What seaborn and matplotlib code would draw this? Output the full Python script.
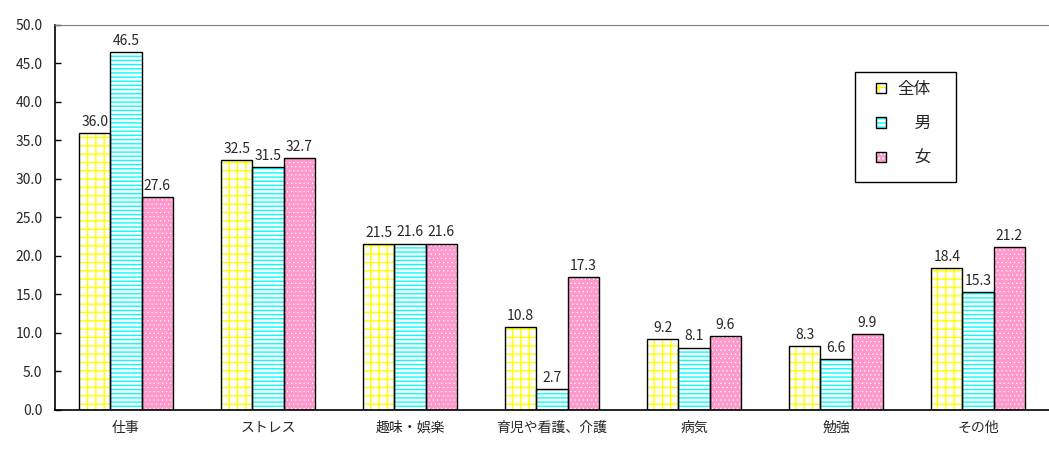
import matplotlib
matplotlib.use('Agg')

import numpy as np
import pandas as pd
import matplotlib.pyplot as plt
import seaborn as sns
from matplotlib.patches import Patch, Rectangle
from matplotlib.legend_handler import HandlerTuple

# data
categories = ['仕事', 'ストレス', '趣味・娯楽', '育児や看護、介護', '病気', '勉強', 'その他']
groups = ['全体', '男', '女']
zentai = [36.0, 32.5, 21.5, 10.8, 9.2, 8.3, 18.4]
otoko = [46.5, 31.5, 21.6, 2.7, 8.1, 6.6, 15.3]
onna = [27.6, 32.7, 21.6, 17.3, 9.6, 9.9, 21.2]

df = pd.DataFrame({
    'category': categories * 3,
    'group': [g for g in groups for _ in categories],
    'value': zentai + otoko + onna,
})

sns.set_style('white')
plt.rcParams['font.family'] = ['Noto Sans CJK JP', 'DejaVu Sans']
plt.rcParams['hatch.linewidth'] = 1.0

# face colour, hatch colour, hatch pattern, hatch line width per group
faces = ['white', 'white', '#FF99CC']
hatch_colors = ['#FFFF00', '#00FFFF', 'white']
hatches = ['++', '----', '....']
hatch_lws = [1.0, 1.0, 0.4]


def set_hlw(p, lw):
    if hasattr(p, 'set_hatch_linewidth'):
        p.set_hatch_linewidth(lw)
    else:
        p._hatch_linewidth = lw


fig = plt.figure(figsize=(10.49, 4.54), dpi=100)
ax = fig.add_axes([0.0524, 0.097, 0.9476, 0.848])

sns.barplot(data=df, x='category', y='value', hue='group', order=categories,
            hue_order=groups, palette=faces, saturation=1, width=0.66,
            errorbar=None, legend=False, ax=ax)

for i, cont in enumerate(ax.containers):
    for bar in cont:
        bar.set_facecolor(faces[i])
        bar.set_hatch(hatches[i])
        bar.set_edgecolor(hatch_colors[i])
        bar.set_linewidth(0)
        set_hlw(bar, hatch_lws[i])
        ax.add_patch(Rectangle(bar.get_xy(), bar.get_width(), bar.get_height(),
                               fill=False, edgecolor='black', linewidth=1.0, zorder=3))
    ax.bar_label(cont, fmt='%.1f', padding=3, fontsize=10)

ax.set_ylim(0, 50)
ax.set_xlim(-0.5, 6.5)
ax.set_yticks(np.arange(0, 50.1, 5))
ax.set_yticklabels([f'{v:.1f}' for v in np.arange(0, 50.1, 5)], fontsize=10)
ax.set_xticks(np.arange(7) + 0.5)
ax.set_xticklabels([])
ax.set_xticks(np.arange(7), minor=True)
ax.set_xticklabels(categories, minor=True, fontsize=10)
ax.tick_params(axis='x', which='major', direction='in', length=4, width=1, color='black')
ax.tick_params(axis='x', which='minor', length=0, pad=8)
ax.tick_params(axis='y', direction='in', length=4, width=1, color='black', pad=9, left=True)
ax.set_xlabel('')
ax.set_ylabel('')

for side in ['left', 'bottom']:
    ax.spines[side].set_color('black')
    ax.spines[side].set_linewidth(1.2)
ax.spines['right'].set_visible(False)
ax.spines['top'].set_color('#808080')
ax.spines['top'].set_linestyle((0, (1, 1)))

# legend with coloured hatch and black outline
handles = []
for i in range(3):
    h1 = Patch(facecolor=faces[i], edgecolor=hatch_colors[i], hatch=hatches[i], linewidth=0)
    set_hlw(h1, hatch_lws[i])
    h2 = Patch(fill=False, edgecolor='black', linewidth=1.0)
    handles.append((h1, h2))
leg = ax.legend(handles, ['全体', '\u3000男', '\u3000女'],
                handler_map={tuple: HandlerTuple(ndivide=1, pad=0)},
                loc='upper left', bbox_to_anchor=(0.826, 0.855), frameon=False,
                fontsize=12, borderpad=0, borderaxespad=0, labelspacing=1.05,
                handlelength=0.6, handleheight=0.6, handletextpad=0.7)
ax.add_patch(Rectangle((0.805, 0.592), 0.101, 0.286, transform=ax.transAxes,
                       fill=False, edgecolor='black', linewidth=1.0, zorder=4,
                       clip_on=False))

plt.savefig('out.png', dpi=100)
